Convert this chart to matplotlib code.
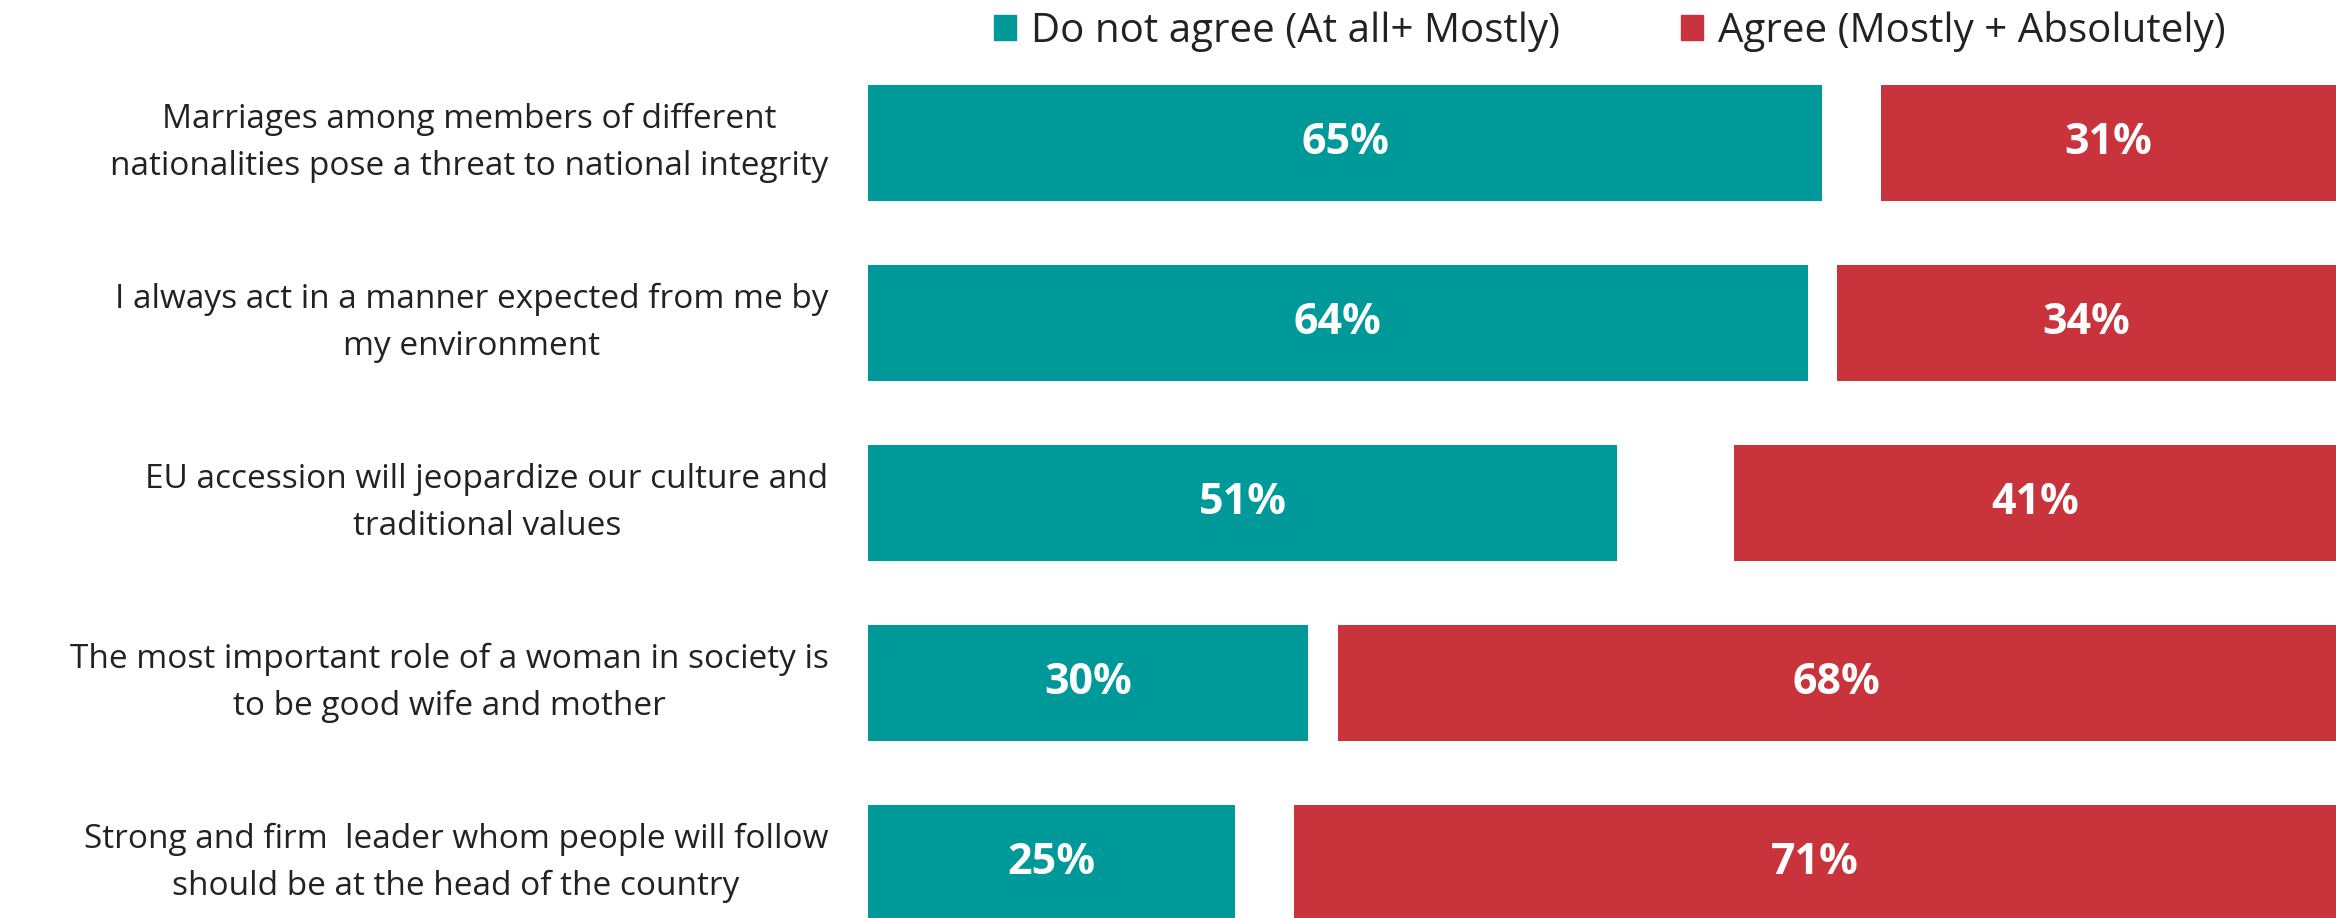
import numpy as np
import matplotlib.pyplot as plt
from matplotlib.patches import Patch

plt.rcParams['font.family'] = ['Open Sans', 'DejaVu Sans']

statements = [
    "Marriages among members of different\nnationalities pose a threat to national integrity",
    "I always act in a manner expected from me by\nmy environment",
    "EU accession will jeopardize our culture and\ntraditional values",
    "The most important role of a woman in society is\nto be good wife and mother",
    "Strong and firm  leader whom people will follow\nshould be at the head of the country",
]
disagree = [65, 64, 51, 30, 25]
agree = [31, 34, 41, 68, 71]
legend_labels = ["Do not agree (At all+ Mostly)", "Agree (Mostly + Absolutely)"]

teal = "#009999"
red = "#C9333B"

disagree = np.array(disagree)
agree = np.array(agree)
# the rest (don't know) stays blank between the two bars
gap = 100 - disagree - agree

fig = plt.figure(figsize=(23.36, 9.18), dpi=100)
ax = fig.add_axes([0.3716, 0, 0.6284, 1])
y = np.arange(len(statements))

ax.barh(y, disagree, height=0.645, color=teal)
ax.barh(y, agree, left=disagree + gap, height=0.645, color=red)

for i in range(len(y)):
    ax.text(disagree[i] / 2, y[i], f"{disagree[i]}%", ha='center', va='center',
            color='white', fontsize=31, fontweight='bold')
    ax.text(disagree[i] + gap[i] + agree[i] / 2, y[i], f"{agree[i]}%", ha='center',
            va='center', color='white', fontsize=31, fontweight='bold')
    ax.text(-2.7, y[i], statements[i], ha='right', va='center', multialignment='center',
            fontsize=24, color='#222222', linespacing=1.55)

ax.set_xlim(0, 100)
ax.set_ylim(4.306, -0.794)
ax.axis('off')

handles = [Patch(color=teal), Patch(color=red)]
fig.legend(handles, legend_labels, loc='center', bbox_to_anchor=(0.689, 0.966), ncol=2,
           frameon=False, fontsize=29, handlelength=0.55, handleheight=0.6,
           handletextpad=0.37, columnspacing=3.0, labelcolor='#222222',
           borderpad=0, borderaxespad=0)

fig.savefig("out.png", dpi=100)
